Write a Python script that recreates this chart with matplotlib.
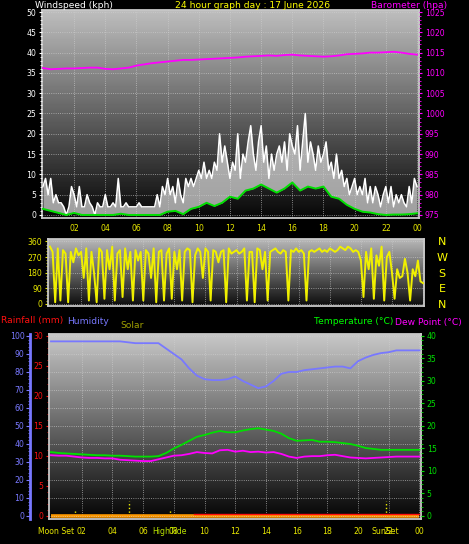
import numpy as np
import matplotlib
matplotlib.use('Agg')
import matplotlib.pyplot as plt
from matplotlib.ticker import MultipleLocator, FixedLocator

# ---- data (one day, 00 -> 24) ----
# wind gust, one value every 10 minutes (kph)
gust_kph = [7, 9, 5, 9, 3, 5,  3, 3, 2, 0, 2, 7,  5, 2, 7, 2, 2, 5,
            3, 2, 0, 3, 2, 2,  5, 2, 2, 3, 2, 9,  2, 2, 3, 2, 2, 2,
            2, 3, 2, 2, 2, 2,  2, 2, 5, 2, 7, 5,  9, 5, 7, 3, 9, 5,
            3, 9, 7, 9, 7, 9,  11, 9, 13, 9, 11, 9,  13, 11, 20, 13, 17, 13,
            9, 13, 11, 20, 9, 15,  13, 18, 22, 15, 11, 18,  22, 13, 17, 9, 15, 11,
            15, 17, 13, 18, 11, 20,  17, 15, 22, 11, 18, 25,  13, 18, 15, 11, 17, 13,
            15, 18, 11, 13, 9, 15,  9, 11, 7, 9, 5, 7,  9, 5, 7, 5, 9, 3,
            7, 3, 7, 5, 2, 5,  7, 3, 7, 2, 5, 3,  5, 3, 2, 7, 3, 9,  7]
# average wind, every 30 minutes (kph)
wind_avg_kph = [1.5, 1.0, 0.5, 0.0, 0.5, 0.0, 0.0, 0.0, 0.0, 0.0, 0.3, 0.0,
                0.0, 0.0, 0.0, 0.0, 0.8, 1.0, 0.2, 1.5, 2.0, 3.0, 2.2, 3.0,
                4.5, 4.0, 6.0, 6.5, 7.5, 6.5, 5.5, 6.5, 8.0, 6.0, 7.0, 6.5,
                7.0, 4.5, 4.0, 2.5, 1.5, 0.8, 0.6, 0.2, 0.0, 0.1, 0.1, 0.2, 0.4]
# barometer, every 30 minutes (hPa)
baro_hpa = [1011.2, 1010.9, 1011.0, 1011.1, 1011.1, 1011.2, 1011.3, 1011.3, 1011.0, 1010.9,
            1011.1, 1011.3, 1011.8, 1012.1, 1012.4, 1012.6, 1012.8, 1013.0, 1013.2, 1013.2,
            1013.3, 1013.4, 1013.5, 1013.6, 1013.7, 1013.8, 1014.0, 1014.1, 1014.2, 1014.3,
            1014.2, 1014.4, 1014.5, 1014.3, 1014.2, 1014.1, 1014.0, 1014.1, 1014.3, 1014.6,
            1014.7, 1014.8, 1015.0, 1015.0, 1015.1, 1015.2, 1015.0, 1014.7, 1014.5]
# wind direction, every 10 minutes (degrees)
wind_dir = [330, 300, 10, 320, 20, 310,  290, 10, 300, 240, 320, 280,
            300, 150, 320, 20, 300, 180,  10, 320, 300, 30, 310, 200,
            330, 20, 290, 310, 40, 320,  200, 300, 20, 310, 250, 300,
            20, 310, 290, 150, 320, 10,  300, 310, 20, 290, 320, 30,
            300, 200, 310, 20, 300, 320,  310, 10, 280, 320, 300, 150,
            320, 300, 20, 310, 300, 240,  300, 310, 10, 320, 290, 300,
            310, 290, 300, 320, 20, 300,  300, 10, 320, 310, 200, 300,
            20, 300, 310, 320, 300, 290,  310, 300, 20, 310, 300, 320,
            300, 310, 290, 20, 300, 310,  300, 310, 320, 300, 310, 300,
            320, 310, 300, 310, 330, 320,  310, 330, 320, 300, 310, 300,
            250, 40, 300, 200, 320, 30,  280, 220, 330, 20, 270, 300,
            180, 30, 200, 150, 160, 260,  180, 20, 200, 160, 250, 130,  120]
# humidity (%), temperature and dew point (C), every 30 minutes
humidity = [97, 97, 97, 97, 97, 97, 97, 97, 97, 97, 96.5, 96, 96, 96, 96, 93, 90, 87,
            82, 78, 76, 75.5, 75.5, 76, 77.5, 75, 73, 71, 72, 75, 79, 80, 80, 81,
            81.5, 82, 82.5, 83, 83, 82, 86, 88, 89.5, 90.5, 91, 92, 92, 92, 92]
temp_c = [14.2, 14.0, 13.9, 13.8, 13.7, 13.6, 13.5, 13.5, 13.4, 13.4, 13.3, 13.2, 13.2,
          13.2, 13.3, 14.0, 15.0, 15.8, 16.7, 17.6, 18.0, 18.5, 18.9, 18.6, 18.6, 19.0,
          19.3, 19.5, 19.2, 18.9, 18.3, 17.3, 16.7, 16.8, 16.9, 16.5, 16.5, 16.4, 16.2,
          16.0, 15.6, 15.1, 14.9, 14.7, 14.7, 14.7, 14.7, 14.7, 14.7]
dew_c = [13.5, 13.4, 13.4, 13.2, 13.0, 12.9, 12.9, 12.8, 12.8, 12.5, 12.4, 12.3, 12.2,
         12.2, 12.6, 13.0, 13.4, 13.5, 13.8, 14.2, 14.0, 13.9, 14.6, 14.7, 14.3, 14.5,
         14.2, 14.3, 14.1, 14.2, 13.8, 13.2, 12.9, 13.2, 13.3, 13.3, 13.5, 13.6, 13.3,
         13.0, 12.9, 12.8, 12.9, 13.0, 13.1, 13.2, 13.2, 13.2, 13.2]
# rainfall and solar: nothing all day
rain_hours = [9.3, 24]
rain_mm = [0, 0]
solar_hours = [0, 24]
solar = [0, 0]

hour_ticks = list(range(2, 25, 2))
hour_labels = ['02', '04', '06', '08', '10', '12', '14', '16', '18', '20', '22', '00']
event_marks = [1.55, 5.05, 7.75, 21.8]
event_heights = [0.8, 2.5, 1.2, 2.5]
event_labels = ['Moon Set', 'HighTide', 'SunSet']
event_label_hours = [0.33, 7.75, 21.8]

t10 = np.arange(len(gust_kph)) / 6
t30 = np.arange(len(baro_hpa)) / 2

W, H = 469, 544
BG = 'black'
YEL = '#e8e800'
MAG = '#ff00ff'
GRN = '#00e000'
BLU = '#7878ff'
RED = '#ff1010'
FS = 5.6
HFS = 6.6


def box(l, t, r, b):
    return [l / W, 1 - b / H, (r - l) / W, (b - t) / H]


def shade(ax, top=0.75, bottom=0.04):
    x0, x1 = ax.get_xlim()
    y0, y1 = ax.get_ylim()
    grad = np.linspace(top, bottom, 64).reshape(-1, 1)
    ax.imshow(grad, extent=[x0, x1, y0, y1], aspect='auto', cmap='gray',
              vmin=0, vmax=1, zorder=0, interpolation='bicubic')
    ax.set_xlim(x0, x1)
    ax.set_ylim(y0, y1)


def frame(ax):
    for s in ax.spines.values():
        s.set_color('#c8c8c8')
        s.set_linewidth(1.3)


fig = plt.figure(figsize=(W / 100, H / 100), dpi=100, facecolor=BG)

# ---------- wind speed / barometer ----------
ax1 = fig.add_axes(box(42, 10, 419, 218))
ax1.set_xlim(-0.06, 24.13)
ax1.set_ylim(-0.75, 50.5)
shade(ax1, 0.74, 0.03)
frame(ax1)
ax1.fill_between(t10, np.interp(t10, t30, wind_avg_kph), gust_kph,
                 color='#e0e0e0', alpha=0.7, lw=0, zorder=2)
ax1.plot(t10, gust_kph, color='white', lw=1.1, zorder=3)
ax1.plot(t30, wind_avg_kph, color=GRN, lw=1.4, zorder=4)
ax1.xaxis.set_major_locator(FixedLocator(hour_ticks))
ax1.set_xticklabels(hour_labels)
ax1.yaxis.set_major_locator(MultipleLocator(5))
ax1.yaxis.set_minor_locator(MultipleLocator(1))
ax1.tick_params(axis='x', length=0, pad=4, colors=YEL, labelsize=FS)
ax1.tick_params(axis='y', which='both', colors='white', labelsize=FS, length=2.2, pad=2)
ax1.tick_params(axis='y', which='minor', length=1.2)
ax1.grid(color='#d0d0d0', ls=':', lw=0.6, alpha=0.8)
ax1.set_axisbelow(False)

ax1b = ax1.twinx()
ax1b.set_ylim(974.25, 1025.5)
ax1b.plot(t30, baro_hpa, color=MAG, lw=1.3)
ax1b.yaxis.set_major_locator(MultipleLocator(5))
ax1b.yaxis.set_minor_locator(MultipleLocator(1))
ax1b.tick_params(axis='y', which='both', colors=MAG, labelsize=FS, length=2.2, pad=2)
ax1b.tick_params(axis='y', which='minor', length=1.2)
for s in ax1b.spines.values():
    s.set_visible(False)

fig.text(35 / W, 1 - 5 / H, 'Windspeed (kph)', color='white', fontsize=HFS, va='center')
fig.text(253 / W, 1 - 5 / H, '24 hour graph day : 17 June 2026', color='#ffff00',
         fontsize=HFS, va='center', ha='center')
fig.text(447 / W, 1 - 5 / H, 'Barometer (hpa)', color=MAG, fontsize=HFS, va='center', ha='right')

# ---------- wind direction ----------
ax2 = fig.add_axes(box(48, 239, 424, 306))
ax2.set_xlim(-0.13, 24.06)
ax2.set_ylim(-11.6, 374)
shade(ax2, 0.72, 0.05)
frame(ax2)
ax2.plot(t10, wind_dir, color='#f0f000', lw=1.4, zorder=3)
ax2.xaxis.set_major_locator(FixedLocator(hour_ticks))
ax2.set_xticklabels([])
ax2.tick_params(axis='x', length=0)
ax2.yaxis.set_major_locator(MultipleLocator(90))
ax2.yaxis.set_minor_locator(MultipleLocator(18))
ax2.tick_params(axis='y', which='both', colors=YEL, labelsize=FS, length=2.2, pad=2)
ax2.tick_params(axis='y', which='minor', length=1.2)
ax2.grid(color='#d0d0d0', ls=':', lw=0.6, alpha=0.8)
for i, c in enumerate('NWSEN'):
    fig.text(442 / W, 1 - (242 + i * 15.8) / H, c, color='#ffff00', fontsize=8,
             ha='center', va='center')

# ---------- rain / humidity / temperature ----------
ax3 = fig.add_axes(box(49, 334, 421, 519))
ax3.set_xlim(-0.13, 24.1)
ax3.set_ylim(-0.5, 30.33)
shade(ax3, 0.78, 0.02)
frame(ax3)
ax3.plot(solar_hours, solar, color='#ff9900', lw=2.6, zorder=5, solid_capstyle='butt')
ax3.plot(rain_hours, [v + 0.25 for v in rain_mm], color=RED, lw=1.0, zorder=6)
ax3.vlines(event_marks, 0, event_heights, colors='#f0f000', linestyles=':', lw=1.0, zorder=4)
ax3.xaxis.set_major_locator(FixedLocator(hour_ticks))
ax3.set_xticklabels(hour_labels)
ax3.tick_params(axis='x', which='both', length=0, pad=6, colors=YEL, labelsize=FS)
ax3.yaxis.set_major_locator(MultipleLocator(5))
ax3.yaxis.set_minor_locator(MultipleLocator(1))
ax3.tick_params(axis='y', which='both', colors=RED, labelsize=FS, length=2.2, pad=2)
ax3.tick_params(axis='y', which='minor', length=1.2)
ax3.grid(axis='x', color='#d0d0d0', ls=':', lw=0.6, alpha=0.8)

x0, x1 = ax3.get_xlim()
for h, lab in zip(event_label_hours, event_labels):
    px = 49 + (h - x0) / (x1 - x0) * (421 - 49)
    fig.text(px / W, 1 - 531 / H, lab, color='#b8e000' if lab == 'HighTide' else YEL,
             fontsize=FS, ha='center', va='center')

ax3h = ax3.twinx()
ax3h.set_ylim(-1.67, 101.1)
ax3h.plot(t30, humidity, color=BLU, lw=1.3)
ax3h.yaxis.tick_left()
ax3h.spines['left'].set_position(('outward', 19 * 0.72))
ax3h.spines['left'].set_visible(True)
ax3h.spines['left'].set_color(BLU)
ax3h.spines['left'].set_linewidth(2)
for k in ('right', 'top', 'bottom'):
    ax3h.spines[k].set_visible(False)
ax3h.yaxis.set_major_locator(MultipleLocator(10))
ax3h.yaxis.set_minor_locator(MultipleLocator(2))
ax3h.tick_params(axis='y', which='both', colors=BLU, labelsize=FS, length=3, pad=1)
ax3h.tick_params(axis='y', which='minor', length=1.5)
ax3h.grid(axis='y', color='#d0d0d0', ls=':', lw=0.6, alpha=0.8)

ax3t = ax3.twinx()
ax3t.set_ylim(-0.67, 40.44)
ax3t.plot(t30, temp_c, color=GRN, lw=1.3)
ax3t.plot(t30, dew_c, color=MAG, lw=1.3)
ax3t.yaxis.set_major_locator(MultipleLocator(5))
ax3t.yaxis.set_minor_locator(MultipleLocator(1))
ax3t.tick_params(axis='y', which='both', colors=GRN, labelsize=FS, length=2.2, pad=2)
ax3t.tick_params(axis='y', which='minor', length=1.2)
for s in ax3t.spines.values():
    s.set_visible(False)

fig.text(1 / W, 1 - 321 / H, 'Rainfall (mm)', color=RED, fontsize=HFS, va='center')
fig.text(67 / W, 1 - 321 / H, 'Humidity', color=BLU, fontsize=HFS, va='center')
fig.text(120 / W, 1 - 326 / H, 'Solar', color='#a0a000', fontsize=HFS, va='center')
fig.text(393 / W, 1 - 322 / H, 'Temperature (°C)', color='#00ff00', fontsize=HFS, va='center', ha='right')
fig.text(395 / W, 1 - 322 / H, 'Dew Point (°C)', color=MAG, fontsize=HFS, va='center')

fig.savefig('out.png', dpi=100, facecolor=BG)
